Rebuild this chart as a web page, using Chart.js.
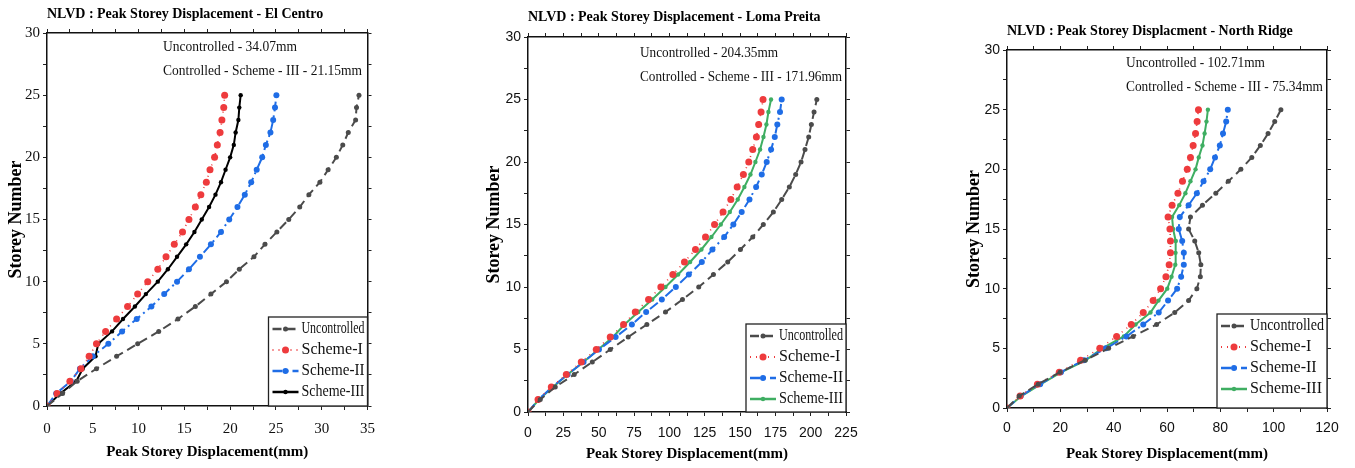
<!DOCTYPE html>
<html>
<head>
<meta charset="utf-8">
<script src="https://cdn.jsdelivr.net/npm/chart.js@4.4.1/dist/chart.umd.min.js"></script>
<style>
body { margin: 0; background: #fff; width: 1355px; height: 468px; position: relative; overflow: hidden; }
canvas { position: absolute; top: 0; }
</style>
</head>
<body>
<canvas id="elcentro" width="385" height="468" style="left:0px"></canvas>
<canvas id="loma" width="400" height="468" style="left:480px"></canvas>
<canvas id="northridge" width="395" height="468" style="left:960px"></canvas>
<script>
// storey levels (y values) and tick labels
const storeys = [0,1,2,3,4,5,6,7,8,9,10,11,12,13,14,15,16,17,18,19,20,21,22,23,24,25];
const storeyTicks = [0,5,10,15,20,25,30];
const ecXTicks = [0,5,10,15,20,25,30,35];
const lpXTicks = [0,25,50,75,100,125,150,175,200,225];
const nrXTicks = [0,20,40,60,80,100,120];
const seriesNames = ['Uncontrolled','Scheme-I','Scheme-II','Scheme-III'];

// El Centro (mm)
const ecUncontrolled = [0,1.7,3.3,5.4,7.6,9.9,12.2,14.3,16.2,17.9,19.6,21.0,22.6,23.8,25.1,26.4,27.6,28.6,29.8,30.7,31.6,32.3,32.9,33.7,33.8,34.07];
const ecScheme1 = [0,1.1,2.5,3.7,4.6,5.4,6.4,7.6,8.8,9.9,11.0,12.1,13.0,13.9,14.8,15.5,16.2,16.8,17.4,17.8,18.3,18.6,18.9,19.1,19.3,19.4];
const ecScheme2 = [0,1.0,2.6,3.6,5.0,6.7,8.2,9.8,11.4,12.8,14.2,15.5,16.7,17.9,19.0,19.9,20.8,21.6,22.3,22.9,23.5,23.9,24.4,24.7,24.9,25.05];
const ecScheme3 = [0,1.45,3.2,3.9,5.3,5.6,7.1,8.3,9.6,10.8,12.1,13.2,14.2,15.2,16.1,16.9,17.7,18.4,19.0,19.5,20.0,20.4,20.6,20.9,21.0,21.15];

// Loma Preita (mm)
const lpUncontrolled = [0,8.7,19.3,32.7,45.5,58.2,70.9,84.1,97.3,109.3,120.8,131.2,141.3,150.3,159.0,166.5,173.6,179.5,184.9,189.4,193.2,196.0,198.6,200.5,202.4,204.35];
const lpScheme1 = [0,7.1,16.5,27.1,37.7,48.3,58.2,67.6,75.9,85.3,94.0,102.5,110.7,118.5,125.6,132.0,138.0,143.5,148.0,152.4,156.2,159.0,161.6,163.2,164.9,166.3];
const lpScheme2 = [0,7.5,17.2,28.0,39.3,50.2,62.0,73.5,83.6,94.7,104.6,113.8,123.0,130.5,138.8,145.3,151.2,156.7,161.4,165.4,168.9,172.0,174.6,176.4,178.3,179.5];
const lpScheme3 = [0,7.8,17.7,28.0,39.3,49.7,60.1,68.3,78.0,87.9,97.3,106.2,114.7,122.7,129.8,136.4,142.8,148.4,153.1,157.4,160.9,164.2,166.6,168.7,170.1,171.96];

// North Ridge (mm)
const nrUncontrolled = [0,4.6,11.7,19.9,29.3,38.1,47.3,56.1,62.9,68.1,71.2,72.5,72.7,71.9,70.4,68.1,68.8,73.3,78.3,83.0,87.7,91.8,95.0,97.9,100.4,102.71];
const nrScheme1 = [0,4.9,11.4,19.6,27.6,34.8,41.1,46.6,51.1,54.8,57.6,59.6,60.8,61.3,61.3,61.1,60.4,61.9,64.1,65.8,67.6,68.8,69.8,70.7,71.3,71.8];
const nrScheme2 = [0,5.1,12.4,20.2,28.8,37.1,44.8,51.1,56.9,60.4,63.8,65.3,66.3,66.3,65.7,64.4,64.8,68.1,71.2,73.7,76.2,78.0,79.8,81.0,82.2,82.8];
const nrScheme3 = [0,5.4,12.7,20.4,29.5,35.7,43.8,48.2,53.8,56.8,60.1,61.7,63.1,63.2,63.3,62.3,61.9,64.6,66.9,68.8,70.7,71.9,73.3,74.1,74.8,75.34];

const SERIF = '"Liberation Serif", "Times New Roman", serif';
const NARROW = '"Liberation Sans Narrow", "Liberation Sans", Arial, sans-serif';

// notes + legend box drawn inside the plot area
const overlay = {
  id: 'overlay',
  afterDraw(chart, args, opts) {
    const ctx = chart.ctx, a = chart.chartArea;
    ctx.save();
    ctx.fillStyle = '#111';
    ctx.font = '15px ' + SERIF;
    ctx.textBaseline = 'middle';
    ctx.textAlign = 'left';
    opts.notes.forEach(n => ctx.fillText(n.text, a.left + opts.noteX, a.top + n.dy, n.w));

    const lg = opts.legend;
    const x0 = a.right - lg.w, y0 = a.bottom - lg.h;
    ctx.fillStyle = '#fff';
    ctx.fillRect(x0, y0, lg.w, lg.h);
    ctx.strokeStyle = '#222';
    ctx.lineWidth = 1.3;
    ctx.strokeRect(x0, y0, lg.w, lg.h);
    chart.data.datasets.forEach((ds, i) => {
      const y = y0 + 12 + i * 21;
      ctx.setLineDash(ds.borderDash || []);
      ctx.strokeStyle = ds.borderColor;
      ctx.lineWidth = ds.borderWidth + 0.5;
      ctx.beginPath();
      ctx.moveTo(x0 + 4, y);
      ctx.lineTo(x0 + 30, y);
      ctx.stroke();
      ctx.setLineDash([]);
      ctx.fillStyle = ds.borderColor;
      ctx.beginPath();
      ctx.arc(x0 + 17, y, ds.pointRadius, 0, Math.PI * 2);
      ctx.fill();
      ctx.fillStyle = '#111';
      ctx.font = '16px ' + SERIF;
      ctx.fillText(ds.label, x0 + 33, y, lg.w - 36);
    });
    ctx.restore();
  }
};

function makeChart(id, o) {
  const canvas = document.getElementById(id);
  const W = canvas.width, H = canvas.height;
  const xMajor = o.xTicks[1] - o.xTicks[0];
  const yMajor = storeyTicks[1] - storeyTicks[0];
  const colors = ['#4b4b4b', '#ee3b3d', '#1f6de6', o.s3color];
  const dashes = [[9,5], [1,5], [10,4,2,4], []];
  const widths = [2, 1.6, 2, 2];
  const radii = [2.5, 3.5, 3, 2.2];

  const datasets = o.series.map((vals, i) => ({
    label: seriesNames[i],
    data: vals.map((v, k) => ({x: v, y: storeys[k]})),
    showLine: true,
    borderColor: colors[i],
    backgroundColor: colors[i],
    borderDash: dashes[i],
    borderWidth: widths[i],
    pointRadius: radii[i],
    pointBorderWidth: 0,
    pointBackgroundColor: colors[i],
    tension: 0
  }));

  const grid = {drawOnChartArea: false, drawTicks: true, tickLength: 4, color: '#222', tickColor: '#222'};
  const border = {display: true, color: '#111', width: 1.5};
  const xLabel = v => o.xTicks.includes(v) ? v : '';
  const yLabel = v => storeyTicks.includes(v) ? v : '';
  const xMin = o.xTicks[0], xMax = o.xTicks[o.xTicks.length - 1];
  const yMin = storeyTicks[0], yMax = storeyTicks[storeyTicks.length - 1];

  new Chart(canvas, {
    type: 'scatter',
    data: {datasets},
    plugins: [overlay],
    options: {
      responsive: false,
      animation: false,
      layout: {padding: {left: 0, right: 0, top: 0, bottom: 0}},
      scales: {
        x: {
          type: 'linear', position: 'bottom', min: xMin, max: xMax,
          grid, border,
          ticks: {stepSize: xMajor / 2, autoSkip: false, maxRotation: 0, padding: o.xTickPad, color: '#111',
                  font: {family: o.tickFont, size: o.tickSize}, callback: xLabel},
          title: {display: true, text: 'Peak Storey Displacement(mm)', color: '#000',
                  font: {family: SERIF, size: 15, weight: 'bold'}, padding: {top: 0, bottom: o.xTitlePad}},
          afterFit: s => { s.height = H - o.plot.bottom; }
        },
        x2: {
          type: 'linear', position: 'top', min: xMin, max: xMax,
          grid, border,
          ticks: {display: false, stepSize: xMajor / 2, autoSkip: false},
          afterFit: s => { s.height = 6; }
        },
        y: {
          type: 'linear', position: 'left', min: yMin, max: yMax,
          grid, border,
          ticks: {stepSize: yMajor / 2, autoSkip: false, padding: 3, color: '#111',
                  font: {family: o.tickFont, size: o.tickSize}, callback: yLabel},
          title: {display: true, text: 'Storey Number', color: '#000',
                  font: {family: SERIF, size: 18, weight: 'bold'}, padding: {top: o.yTitlePad, bottom: 0}},
          afterFit: s => { s.width = o.plot.left; }
        },
        y2: {
          type: 'linear', position: 'right', min: yMin, max: yMax,
          grid, border,
          ticks: {display: false, stepSize: yMajor / 2, autoSkip: false},
          afterFit: s => { s.width = W - o.plot.right; }
        }
      },
      plugins: {
        legend: {display: false},
        tooltip: {enabled: false},
        title: {
          display: true, text: o.title, align: 'start', fullSize: false, color: '#000',
          font: {family: SERIF, size: 14, weight: 'bold'},
          padding: {top: o.titleY - 8.4, bottom: o.plot.top - 6 - o.titleY - 8.4}
        },
        overlay: {
          noteX: o.noteX,
          notes: o.notes,
          legend: o.legend
        }
      }
    }
  });
}

makeChart('elcentro', {
  title: 'NLVD : Peak Storey Displacement - El Centro',
  series: [ecUncontrolled, ecScheme1, ecScheme2, ecScheme3],
  xTicks: ecXTicks, s3color: '#000000',
  tickFont: SERIF, tickSize: 15, xTickPad: 10, xTitlePad: 7, yTitlePad: 6,
  plot: {left: 47, right: 370, top: 33, bottom: 406},
  titleY: 14,
  noteX: 116,
  notes: [{text: 'Uncontrolled - 34.07mm', dy: 14, w: 134}, {text: 'Controlled - Scheme - III - 21.15mm', dy: 38, w: 199}],
  legend: {w: 99, h: 89}
});

makeChart('loma', {
  title: 'NLVD : Peak Storey Displacement - Loma Preita',
  series: [lpUncontrolled, lpScheme1, lpScheme2, lpScheme3],
  xTicks: lpXTicks, s3color: '#3fae62',
  tickFont: NARROW, tickSize: 14, xTickPad: 9, xTitlePad: 5, yTitlePad: 4,
  plot: {left: 48, right: 366, top: 37, bottom: 412},
  titleY: 17,
  noteX: 112,
  notes: [{text: 'Uncontrolled - 204.35mm', dy: 16, w: 138}, {text: 'Controlled - Scheme - III - 171.96mm', dy: 40, w: 202}],
  legend: {w: 100, h: 88}
});

makeChart('northridge', {
  title: 'NLVD : Peak Storey Displacment - North Ridge',
  series: [nrUncontrolled, nrScheme1, nrScheme2, nrScheme3],
  xTicks: nrXTicks, s3color: '#3fae62',
  tickFont: NARROW, tickSize: 14, xTickPad: 8, xTitlePad: 5, yTitlePad: 4,
  plot: {left: 47, right: 367, top: 50, bottom: 408},
  titleY: 31,
  noteX: 119,
  notes: [{text: 'Uncontrolled - 102.71mm', dy: 13, w: 139}, {text: 'Controlled - Scheme - III - 75.34mm', dy: 37, w: 197}],
  legend: {w: 110, h: 94}
});
</script>
</body>
</html>
